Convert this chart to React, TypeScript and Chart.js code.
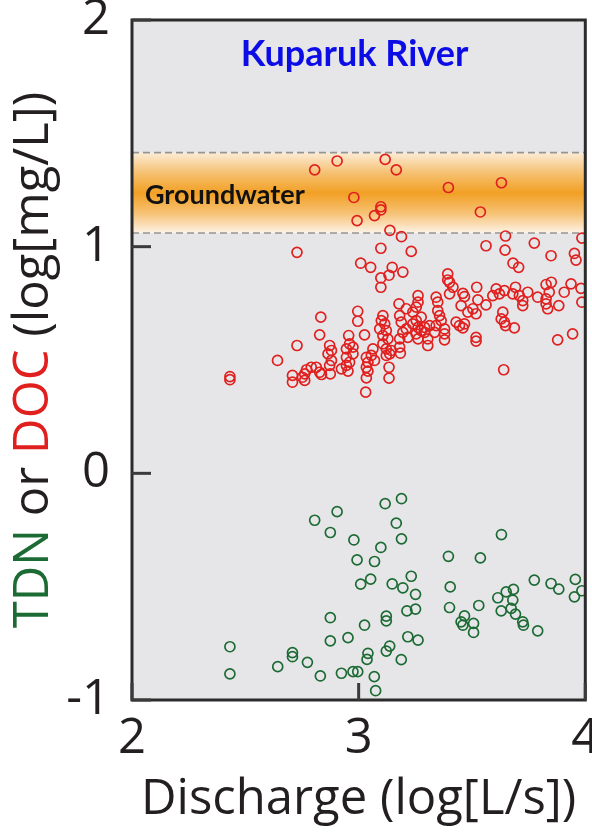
import { useEffect, useRef } from "react";
import { Chart, registerables } from "chart.js";

Chart.register(...registerables);

// ---------- DATA ----------
const docDischarge = [
  2.806, 2.905, 3.117, 3.166, 3.396, 3.63, 2.979, 3.098, 3.098, 3.07, 2.993, 3.537, 3.138, 3.189, 3.648,
  3.775, 3.562, 3.646, 3.985, 2.728, 3.098, 3.232, 3.849, 3.952, 3.959,
  3.009, 3.053, 3.148, 3.195, 3.134, 3.098, 3.098, 3.681, 3.706, 3.393, 3.393, 3.401, 3.416, 3.401, 3.46,
  3.521, 3.467, 3.526, 3.607, 3.592, 3.621, 3.643, 3.68, 3.692, 3.709, 3.724, 3.724, 3.746, 3.79, 3.827,
  3.85, 3.841, 3.827, 3.827, 3.834, 3.883, 3.907, 3.937, 3.981, 3.985, 3.878, 3.944, 3.636, 3.629, 3.643,
  3.648, 3.687, 3.64, 3.518, 3.518, 3.562, 3.504, 3.482, 3.518, 3.452, 3.43, 3.445, 3.467, 3.46, 3.342,
  3.349, 3.349, 3.357, 3.364, 3.342, 3.379, 3.379, 3.379, 3.335, 3.305, 3.305, 3.262, 3.262, 3.254, 3.239,
  3.276, 3.254, 3.239, 3.262, 3.276, 3.291, 3.254, 3.262, 3.291, 3.313, 3.21, 3.217, 3.178, 3.21, 3.181,
  3.188, 3.195, 3.181, 3.181, 3.184, 3.107, 3.1, 3.115, 3.093, 3.122, 3.107, 3.129, 3.107, 3.122, 3.144,
  3.122, 3.137, 3.134, 3.134, 3.063, 3.056, 3.07, 3.034, 3.041, 3.034, 3.041, 3.034, 3.031, 3.026, 2.996,
  2.996, 2.956, 2.96, 2.975, 2.946, 2.975, 2.946, 2.96, 2.946, 2.953, 2.924, 2.872, 2.88, 2.865, 2.88,
  2.872, 2.875, 2.833, 2.828, 2.728, 2.642, 2.813, 2.828, 2.836, 2.791, 2.77, 2.762, 2.752, 2.762, 2.708,
  2.708, 2.432, 2.432,
];
const docConc = [
  1.339, 1.378, 1.385, 1.339, 1.261, 1.282, 1.217, 1.176, 1.162, 1.137, 1.115, 1.153, 1.072, 1.044, 1.047,
  1.016, 1.004, 0.985, 1.038, 0.975, 0.993, 0.979, 0.96, 0.97, 0.941,
  0.927, 0.909, 0.909, 0.888, 0.874, 0.862, 0.821, 0.927, 0.909, 0.88, 0.853, 0.843, 0.821, 0.792, 0.794,
  0.821, 0.78, 0.765, 0.814, 0.784, 0.792, 0.806, 0.792, 0.821, 0.784, 0.762, 0.74, 0.799, 0.777, 0.833,
  0.843, 0.799, 0.77, 0.748, 0.726, 0.74, 0.799, 0.836, 0.816, 0.755, 0.589, 0.615, 0.711, 0.681, 0.667,
  0.652, 0.642, 0.457, 0.6, 0.583, 0.743, 0.726, 0.711, 0.704, 0.74, 0.667, 0.652, 0.659, 0.642, 0.777,
  0.755, 0.718, 0.696, 0.674, 0.652, 0.637, 0.615, 0.589, 0.622, 0.564, 0.593, 0.784, 0.755, 0.733, 0.711,
  0.689, 0.674, 0.659, 0.644, 0.63, 0.622, 0.615, 0.593, 0.644, 0.652, 0.637, 0.6, 0.748, 0.726, 0.696,
  0.667, 0.622, 0.593, 0.557, 0.53, 0.696, 0.674, 0.659, 0.637, 0.63, 0.608, 0.593, 0.571, 0.549, 0.542,
  0.52, 0.527, 0.468, 0.42, 0.549, 0.52, 0.498, 0.512, 0.49, 0.468, 0.451, 0.421, 0.358, 0.611, 0.715,
  0.671, 0.608, 0.571, 0.557, 0.549, 0.527, 0.512, 0.49, 0.476, 0.451, 0.461, 0.564, 0.542, 0.527, 0.498,
  0.476, 0.439, 0.689, 0.611, 0.564, 0.498, 0.468, 0.446, 0.436, 0.468, 0.457, 0.439, 0.424, 0.41, 0.432,
  0.402, 0.427, 0.413,
];
const tdnDischarge = [
  2.806, 2.905, 2.875, 2.979, 2.993, 3.07, 3.098, 3.117, 3.189, 3.166, 3.189, 3.009, 3.053, 3.148, 3.195,
  3.232, 3.251, 3.396, 3.537, 3.63, 3.404, 3.401, 3.53, 3.467, 3.452, 3.46, 3.507, 3.507, 3.614, 3.651,
  3.683, 3.68, 3.629, 3.673, 3.692, 3.724, 3.727, 3.79, 3.775, 3.849, 3.883, 3.956, 3.985, 3.952, 2.875,
  2.875, 2.953, 3.026, 3.122, 3.122, 3.213, 3.251, 3.217, 3.262, 3.137, 3.122, 3.188, 3.041, 3.037, 2.996,
  2.975, 2.924, 2.831, 2.774, 2.708, 2.708, 2.643, 2.432, 2.432, 3.069, 3.075,
];
const tdnConc = [
  -0.207, -0.169, -0.261, -0.294, -0.382, -0.389, -0.327, -0.134, -0.112, -0.22, -0.289, -0.489, -0.467,
  -0.488, -0.505, -0.454, -0.534, -0.366, -0.373, -0.27, -0.501, -0.592, -0.583, -0.629, -0.655, -0.67,
  -0.662, -0.702, -0.549, -0.523, -0.512, -0.559, -0.607, -0.596, -0.621, -0.655, -0.67, -0.695, -0.471,
  -0.486, -0.511, -0.468, -0.518, -0.545, -0.637, -0.739, -0.725, -0.67, -0.63, -0.651, -0.607, -0.599,
  -0.721, -0.736, -0.762, -0.784, -0.822, -0.794, -0.821, -0.875, -0.875, -0.882, -0.894, -0.834, -0.791,
  -0.809, -0.853, -0.765, -0.885, -0.897, -0.959,
];
const xTickValues = [2, 3, 4];
const yTickValues = [-1, 0, 1, 2];
const groundwaterLow = 1.06;
const groundwaterHigh = 1.415;
const titleText = "Kuparuk River";
const bandText = "Groundwater";
const xTitle = "Discharge (log[L/s])";
const yTitleParts = [
  { text: "TDN", color: "#1d6b34" },
  { text: " or ", color: "#231f20" },
  { text: "DOC", color: "#e0201f" },
  { text: " (log[mg/L])", color: "#231f20" },
];

// ---------- STYLE ----------
const AXIS_FONT = "'Open Sans', 'Noto Sans', sans-serif";
const TEXT_COLOR = "#231f20";
const RED = "#e0201f";
const GREEN = "#1d6b34";

const decorPlugin = {
  id: "decor",
  beforeDatasetsDraw(chart: any) {
    const { ctx, chartArea: a, scales } = chart;
    const x = scales.x;
    const y = scales.y;
    ctx.save();
    ctx.fillStyle = "#e6e6e9";
    ctx.fillRect(a.left, a.top, a.right - a.left, a.bottom - a.top);

    const yHi = y.getPixelForValue(groundwaterHigh);
    const yLo = y.getPixelForValue(groundwaterLow);
    const g = ctx.createLinearGradient(0, yHi, 0, yLo);
    g.addColorStop(0, "#fcecd6");
    g.addColorStop(0.25, "#f6c173");
    g.addColorStop(0.5, "#f2a024");
    g.addColorStop(0.75, "#f6c173");
    g.addColorStop(1, "#fdf3e6");
    ctx.fillStyle = g;
    ctx.fillRect(a.left, yHi, a.right - a.left, yLo - yHi);

    ctx.strokeStyle = "#959595";
    ctx.lineWidth = 1.6;
    ctx.setLineDash([7, 4]);
    for (const v of [groundwaterHigh, groundwaterLow]) {
      const py = y.getPixelForValue(v);
      ctx.beginPath();
      ctx.moveTo(a.left, py);
      ctx.lineTo(a.right, py);
      ctx.stroke();
    }
    ctx.setLineDash([]);

    // annotation texts
    ctx.fillStyle = "#0c0ce6";
    ctx.font = "bold 36px Lato, 'Open Sans', sans-serif";
    ctx.textAlign = "center";
    ctx.textBaseline = "alphabetic";
    ctx.fillText(titleText, x.getPixelForValue(2.982), y.getPixelForValue(1.797));

    ctx.fillStyle = "#111";
    ctx.font = "bold 27px Lato, 'Open Sans', sans-serif";
    ctx.textAlign = "left";
    ctx.fillText(bandText, x.getPixelForValue(2.057), y.getPixelForValue(1.189));
    ctx.restore();
  },
  afterDatasetsDraw(chart: any) {
    const { ctx, chartArea: a, scales } = chart;
    const x = scales.x;
    const y = scales.y;
    ctx.save();
    ctx.strokeStyle = "#2b2b2b";
    ctx.lineWidth = 3;
    ctx.strokeRect(a.left, a.top, a.right - a.left, a.bottom - a.top);
    ctx.strokeStyle = "#3a3a3a";
    for (const v of yTickValues) {
      const py = y.getPixelForValue(v);
      ctx.beginPath();
      ctx.moveTo(a.left, py);
      ctx.lineTo(a.left + 19, py);
      ctx.stroke();
    }
    for (const v of xTickValues) {
      const px = x.getPixelForValue(v);
      ctx.beginPath();
      ctx.moveTo(px, a.bottom);
      ctx.lineTo(px, a.bottom - 17);
      ctx.stroke();
    }
    ctx.restore();
  },
  afterDraw(chart: any) {
    const { ctx, chartArea: a } = chart;
    ctx.save();
    ctx.font = `49px ${AXIS_FONT}`;
    const total = yTitleParts.reduce((s, p) => s + ctx.measureText(p.text).width, 0);
    ctx.translate(48, (a.top + a.bottom) / 2);
    ctx.rotate(-Math.PI / 2);
    ctx.textAlign = "left";
    ctx.textBaseline = "alphabetic";
    let cx = -total / 2;
    for (const p of yTitleParts) {
      ctx.fillStyle = p.color;
      ctx.fillText(p.text, cx, 0);
      cx += ctx.measureText(p.text).width;
    }
    ctx.restore();
  },
};

export default function App() {
  const ref = useRef<HTMLCanvasElement | null>(null);

  useEffect(() => {
    if (!ref.current) return;
    const docPoints = docDischarge.map((v, i) => ({ x: v, y: docConc[i] }));
    const tdnPoints = tdnDischarge.map((v, i) => ({ x: v, y: tdnConc[i] }));
    const chart = new Chart(ref.current, {
      type: "scatter",
      data: {
        datasets: [
          {
            label: "DOC",
            data: docPoints,
            borderColor: RED,
            backgroundColor: "rgba(0,0,0,0)",
            pointRadius: 5,
            pointBorderWidth: 1.7,
            pointStyle: "circle",
          },
          {
            label: "TDN",
            data: tdnPoints,
            borderColor: GREEN,
            backgroundColor: "rgba(0,0,0,0)",
            pointRadius: 5,
            pointBorderWidth: 1.7,
            pointStyle: "circle",
          },
        ],
      },
      options: {
        animation: false,
        responsive: false,
        maintainAspectRatio: false,
        devicePixelRatio: 1,
        layout: { padding: { top: 20, right: 6, left: 0, bottom: 0 } },
        plugins: {
          legend: { display: false },
          tooltip: { enabled: false },
        },
        scales: {
          x: {
            type: "linear",
            min: 2,
            max: 4,
            afterBuildTicks: (s: any) => {
              s.ticks = xTickValues.map((v) => ({ value: v }));
            },
            afterFit: (s: any) => {
              s.height = 134;
              s.paddingLeft = 0;
              s.paddingRight = 0;
            },
            grid: { display: false, drawTicks: false },
            border: { display: false },
            ticks: {
              padding: 10,
              maxRotation: 0,
              autoSkip: false,
              color: TEXT_COLOR,
              font: { family: AXIS_FONT, size: 49 },
            },
            title: {
              display: true,
              text: xTitle,
              color: TEXT_COLOR,
              font: { family: AXIS_FONT, size: 49 },
              padding: { top: 0, bottom: 5 },
            },
          },
          y: {
            type: "linear",
            min: -1,
            max: 2,
            afterBuildTicks: (s: any) => {
              s.ticks = yTickValues.map((v) => ({ value: v }));
            },
            afterFit: (s: any) => {
              s.width = 132;
              s.paddingTop = 0;
              s.paddingBottom = 0;
            },
            grid: { display: false, drawTicks: false },
            border: { display: false },
            ticks: {
              padding: 22,
              autoSkip: false,
              color: TEXT_COLOR,
              font: { family: AXIS_FONT, size: 49 },
            },
          },
        },
      },
      plugins: [decorPlugin],
    });
    return () => chart.destroy();
  }, []);

  return (
    <div style={{ position: "absolute", left: 0, top: 0, width: 592, height: 834, background: "#fff" }}>
      <canvas ref={ref} width={592} height={834} style={{ width: 592, height: 834, display: "block" }} />
    </div>
  );
}
